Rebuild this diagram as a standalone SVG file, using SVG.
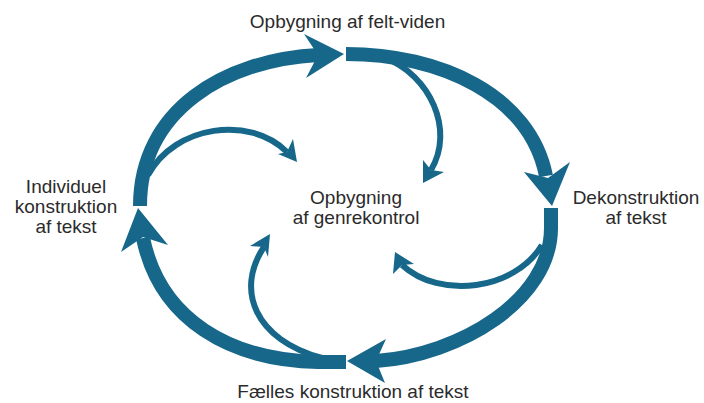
<svg xmlns="http://www.w3.org/2000/svg" width="704" height="403" viewBox="0 0 704 403">
<style>
.lbl{font-family:"Liberation Sans",Arial,sans-serif;font-size:19px;fill:#2b2b2b;text-anchor:middle}
.big{fill:none;stroke:#17678b;stroke-width:14;stroke-linecap:butt}
.small{fill:none;stroke:#17678b;stroke-width:6;stroke-linecap:butt}
.head{fill:#17678b}
</style>
<rect width="704" height="403" fill="#ffffff"/>
<g id="connectors">
  <path class="big" d="M140,206 C140,110 225,60 318,55"/>
  <polygon class="head" points="344,54 304,34 318,55 306,78"/>
  <path class="big" d="M346,54 C440,54 530,95 546,176"/>
  <polygon class="head" points="552,206 524,172 548,178 570,162"/>
  <path class="big" d="M551,208 L551,228 C551,300 460,355 376,361"/>
  <polygon class="head" points="347,361 386,339 376,361 385,383"/>
  <path class="big" d="M346,362 L318,362 C230,360 160,320 143,238"/>
  <polygon class="head" points="138,208 121,252 143,237 168,245"/>
  <path class="small" d="M148,175 C175,125 250,115 287,152"/>
  <polygon class="head" points="297,162 293,139 287,152 278,154"/>
  <path class="small" d="M385,58 C430,75 455,130 431,170"/>
  <polygon class="head" points="423,183 423,160 431,170 444,172"/>
  <path class="small" d="M542,245 C515,290 440,300 402,265"/>
  <polygon class="head" points="395,252 393,274 402,265 414,264"/>
  <path class="small" d="M322,358 C255,340 235,290 264,247"/>
  <polygon class="head" points="270,234 250,246 264,247 268,257"/>
</g>
<g id="node-top"><text class="lbl" x="347.5" y="28">Opbygning af felt-viden</text></g>
<g id="node-right"><text class="lbl" x="636" y="204">Dekonstruktion</text><text class="lbl" x="636" y="224">af tekst</text></g>
<g id="node-bottom"><text class="lbl" x="353" y="398">Fælles konstruktion af tekst</text></g>
<g id="node-left"><text class="lbl" x="66" y="193">Individuel</text><text class="lbl" x="66" y="213">konstruktion</text><text class="lbl" x="66" y="233">af tekst</text></g>
<g id="node-center"><text class="lbl" x="356" y="204">Opbygning</text><text class="lbl" x="356" y="224">af genrekontrol</text></g>
</svg>
